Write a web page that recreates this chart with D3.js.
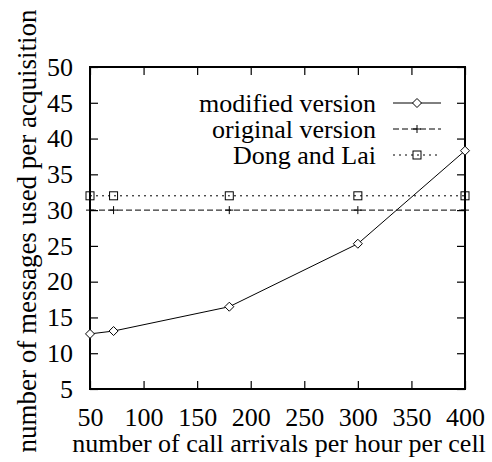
<!DOCTYPE html>
<html>
<head>
<meta charset="utf-8">
<script src="https://cdn.jsdelivr.net/npm/d3@7"></script>
</head>
<body style="margin:0;background:#fff">
<svg id="chart" width="492" height="462" font-family="Liberation Serif"></svg>
<script>
// Call arrival rates (per hour per cell) at which each scheme was measured
const arrivals = [50, 72, 180, 300, 400];
// Messages used per acquisition
const modifiedVersion = [12.7, 13.1, 16.5, 25.3, 38.3];
const originalVersion = [30, 30, 30, 30, 30];
const dongAndLai = [32, 32, 32, 32, 32];

const xTicks = [50, 100, 150, 200, 250, 300, 350, 400];
const yTicks = [5, 10, 15, 20, 25, 30, 35, 40, 45, 50];

const seriesNames = ["modified version", "original version", "Dong and Lai"];

const svg = d3.select("#chart");
const W = 492, H = 462;
const margin = { left: 90, right: 27, top: 67, bottom: 73 };

const x = d3.scaleLinear().domain([50, 400]).range([margin.left, W - margin.right]);
const y = d3.scaleLinear().domain([5, 50]).range([H - margin.bottom, margin.top]);

const fontSize = 26;
const tickLen = 8;

function serif(sel, size = fontSize) {
  return sel.attr("font-family", "Liberation Serif").attr("font-size", size).attr("fill", "#000");
}

// Mirrored inner ticks on all four sides
const axes = [
  { gen: d3.axisBottom(x).tickValues(xTicks).tickSizeInner(-tickLen).tickSizeOuter(0).tickPadding(19), t: `translate(0,${y(5)})`, labels: true },
  { gen: d3.axisTop(x).tickValues(xTicks).tickSizeInner(-tickLen).tickSizeOuter(0), t: `translate(0,${y(50)})`, labels: false },
  { gen: d3.axisLeft(y).tickValues(yTicks).tickSizeInner(-tickLen).tickSizeOuter(0).tickPadding(17), t: `translate(${x(50)},0)`, labels: true },
  { gen: d3.axisRight(y).tickValues(yTicks).tickSizeInner(-tickLen).tickSizeOuter(0), t: `translate(${x(400)},0)`, labels: false }
];
axes.forEach(a => {
  const g = svg.append("g").attr("transform", a.t).call(a.gen);
  g.attr("font-family", "Liberation Serif").attr("font-size", fontSize);
  g.select(".domain").remove();
  g.selectAll(".tick line").attr("stroke", "#000").attr("stroke-width", 1.2);
  serif(g.selectAll(".tick text"));
  if (!a.labels) g.selectAll(".tick text").remove();
});

// Plot frame
svg.append("rect")
  .attr("x", x(50)).attr("y", y(50))
  .attr("width", x(400) - x(50)).attr("height", y(5) - y(50))
  .attr("fill", "none").attr("stroke", "#000").attr("stroke-width", 2);

const line = d3.line().x(d => x(d[0])).y(d => y(d[1]));

const styles = [
  { values: modifiedVersion, dash: null, marker: "diamond" },
  { values: originalVersion, dash: "6,3", marker: "plus" },
  { values: dongAndLai, dash: "2,4", marker: "square" }
];

function drawMarker(g, type, cx, cy) {
  if (type === "diamond") {
    const r = 4.5;
    g.append("path")
      .attr("d", `M${cx},${cy - r}L${cx + r},${cy}L${cx},${cy + r}L${cx - r},${cy}Z`)
      .attr("fill", "#fff").attr("stroke", "#000").attr("stroke-width", 1);
  } else if (type === "plus") {
    const r = 4;
    g.append("path")
      .attr("d", `M${cx - r},${cy}H${cx + r}M${cx},${cy - r}V${cy + r}`)
      .attr("stroke", "#000").attr("stroke-width", 1);
  } else {
    const r = 4;
    g.append("rect")
      .attr("x", cx - r).attr("y", cy - r).attr("width", 2 * r).attr("height", 2 * r)
      .attr("fill", "none").attr("stroke", "#000").attr("stroke-width", 1);
  }
}

const plot = svg.append("g");
styles.forEach(s => {
  const pts = arrivals.map((a, i) => [a, s.values[i]]);
  plot.append("path")
    .attr("d", line(pts))
    .attr("fill", "none").attr("stroke", "#000").attr("stroke-width", 1)
    .attr("stroke-dasharray", s.dash);
  pts.forEach(p => drawMarker(plot, s.marker, x(p[0]), y(p[1])));
});

// Legend
const legend = svg.append("g");
const legX1 = 393, legX2 = 441, legTextX = 376;
seriesNames.forEach((name, i) => {
  const ly = 103 + i * 26;
  serif(legend.append("text"))
    .attr("x", legTextX).attr("y", ly)
    .attr("dy", "0.33em")
    .attr("text-anchor", "end")
    .text(name);
  legend.append("line")
    .attr("x1", legX1).attr("x2", legX2).attr("y1", ly).attr("y2", ly)
    .attr("stroke", "#000").attr("stroke-width", 1)
    .attr("stroke-dasharray", styles[i].dash);
  drawMarker(legend, styles[i].marker, (legX1 + legX2) / 2, ly);
});

// Axis titles
serif(svg.append("text"))
  .attr("x", 279).attr("y", 452)
  .attr("text-anchor", "middle")
  .text("number of call arrivals per hour per cell");

serif(svg.append("text"), 27)
  .attr("transform", `translate(36,231) rotate(-90)`)
  .attr("text-anchor", "middle")
  .text("number of messages used per acquisition");
</script>
</body>
</html>
